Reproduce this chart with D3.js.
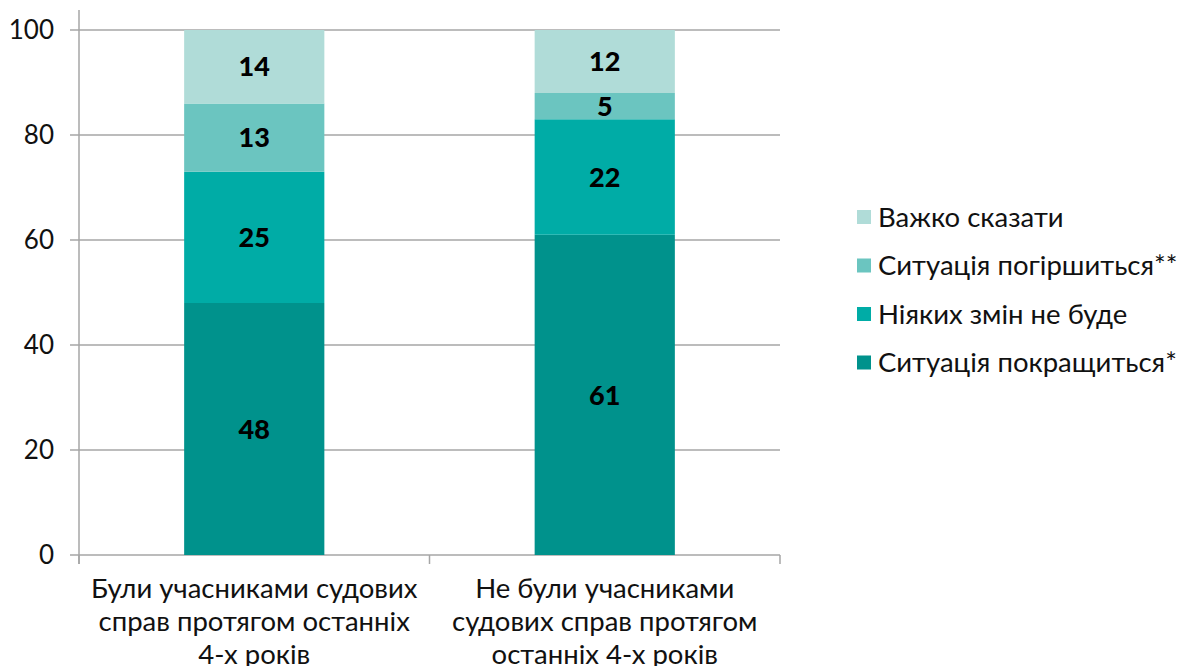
<!DOCTYPE html>
<html><head><meta charset="utf-8">
<script src="https://cdn.jsdelivr.net/npm/d3@7"></script>
<style>body{margin:0;background:#fff;} svg{display:block;font-family:Lato,"Open Sans",sans-serif;}</style>
</head><body>
<svg id="c" width="1178" height="666"></svg>
<script>
const categories = [
  ["Були учасниками судових", "справ протягом останніх", "4-х років"],
  ["Не були учасниками", "судових справ протягом", "останніх 4-х років"]
];
const seriesNames = ["Ситуація покращиться*", "Ніяких змін не буде", "Ситуація погіршиться**", "Важко сказати"];
const improve = [48, 61];
const noChange = [25, 22];
const worse = [13, 5];
const hardToSay = [14, 12];
const yTicks = [0, 20, 40, 60, 80, 100];
const colors = ["#00928c", "#00aca6", "#6bc5c0", "#b0dcd8"];

const FS = 27.5;
const svg = d3.select("#c");
const x0 = 79, x1 = 780, yTop = 30, yBot = 555;
const y = d3.scaleLinear().domain([0, 100]).range([yBot, yTop]);
const x = d3.scaleBand().domain([0, 1]).range([x0, x1]).paddingInner(0.6).paddingOuter(0.3);

// gridlines
svg.append("g").selectAll("line").data(yTicks).join("line")
  .attr("x1", x0 - 9).attr("x2", x1).attr("y1", d => y(d)).attr("y2", d => y(d))
  .attr("stroke", "#a6a6a6").attr("stroke-width", 1.5);
// y labels
svg.append("g").selectAll("text").data(yTicks).join("text")
  .attr("x", 54).attr("y", d => y(d)).attr("dy", "0.36em").attr("text-anchor", "end")
  .attr("font-size", 26).attr("fill", "#111").text(d => d);

const series = [improve, noChange, worse, hardToSay];
const data = [0, 1].map(i => {
  const o = {i};
  series.forEach((s, k) => o[k] = s[i]);
  return o;
});
const stack = d3.stack().keys([0, 1, 2, 3])(data);
const g = svg.append("g");
stack.forEach((layer, k) => {
  g.selectAll(null).data(layer).join("rect")
    .attr("x", d => x(d.data.i)).attr("width", x.bandwidth())
    .attr("y", d => y(d[1])).attr("height", d => y(d[0]) - y(d[1]))
    .attr("fill", colors[k]);
  g.selectAll(null).data(layer).join("text")
    .attr("x", d => x(d.data.i) + x.bandwidth() / 2)
    .attr("y", d => (y(d[0]) + y(d[1])) / 2).attr("dy", "0.36em")
    .attr("text-anchor", "middle").attr("font-size", 27).attr("font-weight", 900)
    .attr("fill", "#000").text(d => d[1] - d[0]);
});

// axes lines
svg.append("line").attr("x1", x0).attr("x2", x0).attr("y1", 10).attr("y2", yBot + 9)
  .attr("stroke", "#a6a6a6").attr("stroke-width", 1.5);
[x0, (x0 + x1) / 2, x1].forEach(v => svg.append("line").attr("x1", v).attr("x2", v)
  .attr("y1", yBot).attr("y2", yBot + 9).attr("stroke", "#a6a6a6").attr("stroke-width", 1.5));

// category labels
categories.forEach((lines, i) => {
  const t = svg.append("text").attr("text-anchor", "middle").attr("font-size", FS).attr("fill", "#111");
  lines.forEach((l, j) => t.append("tspan").attr("x", x(i) + x.bandwidth() / 2).attr("y", 598 + j * 33).text(l));
});

// legend
const legOrder = [3, 2, 1, 0];
legOrder.forEach((k, r) => {
  const yy = 217 + r * 48.5;
  svg.append("rect").attr("x", 857).attr("y", yy - 7).attr("width", 14).attr("height", 14).attr("fill", colors[k]);
  svg.append("text").attr("x", 878).attr("y", yy).attr("dy", "0.36em").attr("font-size", FS)
    .attr("fill", "#111").text(seriesNames[k]);
});
</script>
</body></html>
